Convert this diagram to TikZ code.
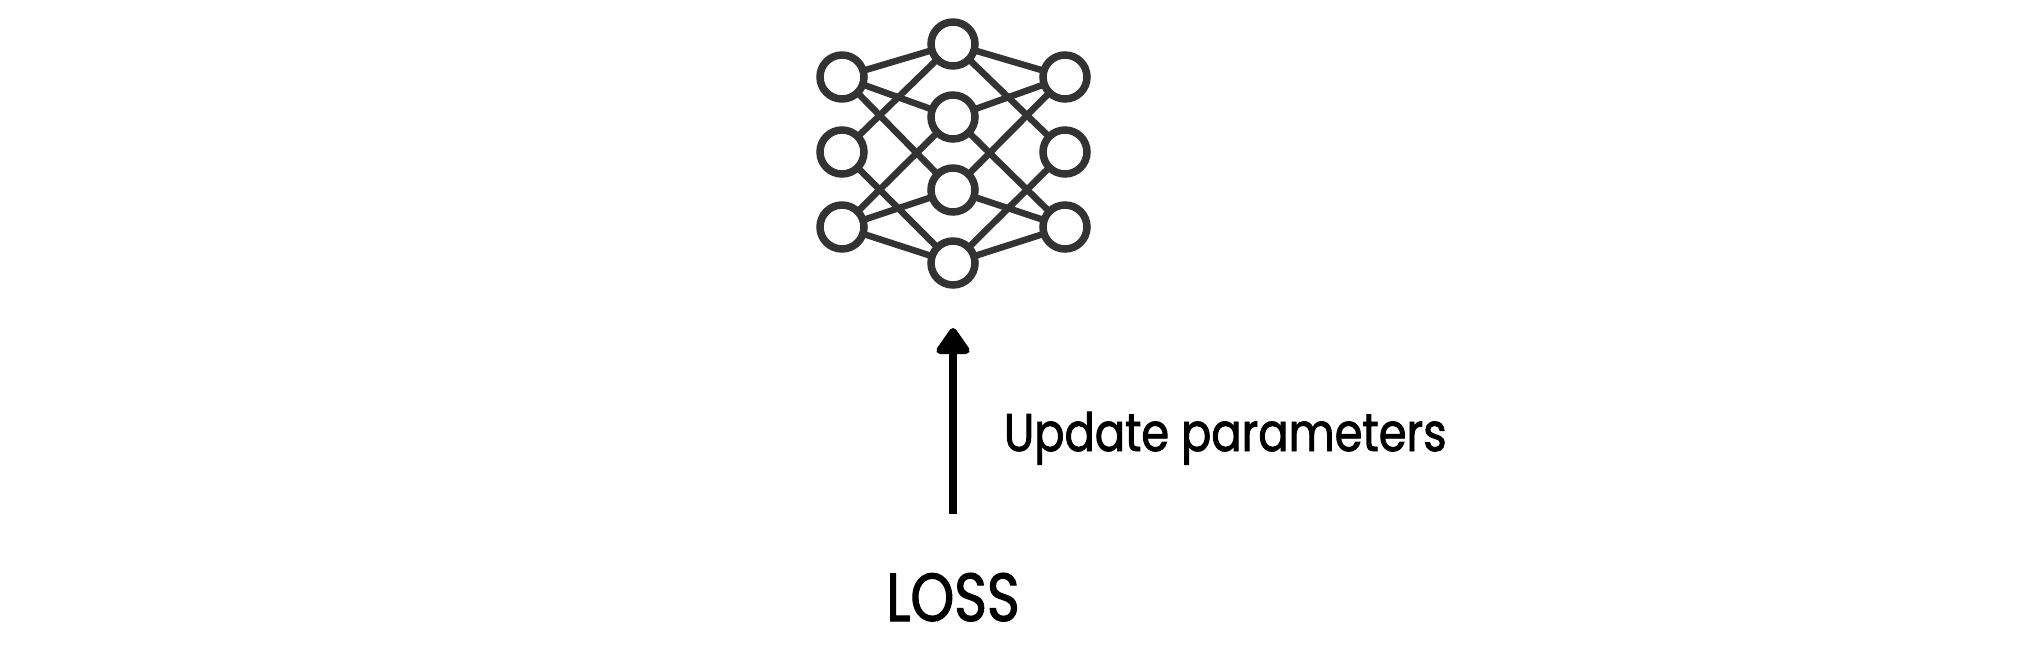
\documentclass[tikz,border=0pt]{standalone}
\usepackage{fontspec}
\setmainfont{Poppins}
\newfontfamily\updfont[FakeBold=1.6,FakeStretch=0.845]{Poppins}
\newfontfamily\lossfont[FakeBold=1.6,FakeStretch=0.82]{Poppins}
\usetikzlibrary{arrows.meta}
\definecolor{netgray}{HTML}{333333}
\tikzset{
  neuron/.style={circle,draw=netgray,fill=white,line width=7.5pt,minimum size=44pt,inner sep=0pt,outer sep=0pt},
  synapse/.style={draw=netgray,line width=6.5pt},
  updatearrow/.style={draw=black,line width=8.5pt,-{Triangle[width=38pt,length=29pt,round,sep=0pt]}},
  label/.style={inner sep=0pt,outer sep=0pt,text=black}
}
\begin{document}
\begin{tikzpicture}[x=1pt,y=-1pt]
\useasboundingbox (0,0) rectangle (2034,654);
\foreach \a/\b/\c in {L1/842/77,L2/842/152,L3/842/227,C1/953/44,C2/953/117,C3/953/190,C4/953/263,R1/1065/77,R2/1065/152,R3/1065/227}
  \node[neuron] (\a) at (\b,\c) {};
\foreach \a/\b in {L1/C1,L1/C2,L1/C3,L2/C1,L2/C4,L3/C2,L3/C3,L3/C4,R1/C1,R1/C2,R1/C3,R2/C1,R2/C4,R3/C2,R3/C3,R3/C4}
  \draw[synapse] (\a) -- (\b);
\coordinate (tail) at (953,514);
\coordinate (tip) at (953,328);
\draw[updatearrow] (tail) -- (tip);
\node[label,anchor=base west] (upd) at (1004,451) {\updfont\fontsize{53pt}{60pt}\selectfont Update parameters};
\node[label,anchor=base] (loss) at (953,621) {\lossfont\fontsize{68pt}{80pt}\selectfont LOSS};
\end{tikzpicture}
\end{document}
